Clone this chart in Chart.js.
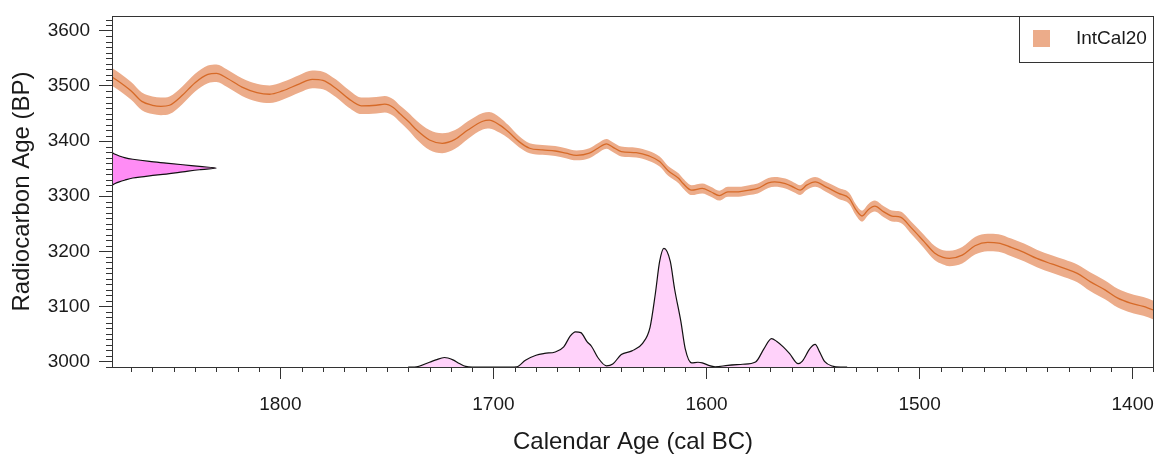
<!DOCTYPE html>
<html>
<head>
<meta charset="utf-8">
<script src="https://cdn.jsdelivr.net/npm/chart.js@4.4.0/dist/chart.umd.min.js"></script>
<style>
html, body { margin: 0; padding: 0; background: #fff; }
</style>
</head>
<body>
<canvas id="cvs" width="1161" height="459"></canvas>
<script>
// IntCal20 calibration curve (cal BC, mean 14C age BP, half-width of band)
var calAge = [1882, 1875, 1870, 1865, 1860, 1856, 1852, 1846, 1840, 1834, 1830, 1825, 1818, 1811, 1805, 1799,
	1791, 1785, 1780, 1774, 1768, 1762, 1755, 1751, 1747, 1744, 1740, 1736, 1730, 1724, 1718, 1712,
	1705, 1702, 1697, 1693, 1688, 1683, 1677, 1671, 1666, 1661, 1655, 1651, 1647, 1644, 1640, 1633,
	1627, 1622, 1618, 1613, 1611, 1607, 1602, 1598, 1594, 1590, 1585, 1580, 1576, 1571, 1568, 1563,
	1559, 1556, 1553, 1549, 1544, 1538, 1533, 1530, 1527, 1524, 1521, 1517, 1513, 1509, 1504, 1498,
	1493, 1489, 1486, 1480, 1474, 1468, 1463, 1457, 1451, 1445, 1438, 1432, 1426, 1420, 1413, 1407,
	1401, 1395, 1388];
var c14Age = [3524, 3506, 3491, 3472, 3465, 3463, 3465, 3483, 3506, 3521, 3523, 3514, 3498, 3488, 3485, 3491,
	3504, 3512, 3510, 3496, 3477, 3464, 3465, 3467, 3461, 3450, 3436, 3420, 3402, 3396, 3403, 3420,
	3436, 3438, 3429, 3417, 3399, 3387, 3384, 3382, 3378, 3374, 3378, 3387, 3395, 3389, 3381, 3379,
	3373, 3363, 3346, 3332, 3323, 3311, 3314, 3308, 3301, 3308, 3308, 3311, 3314, 3324, 3326, 3323,
	3316, 3311, 3320, 3326, 3317, 3305, 3296, 3276, 3264, 3276, 3282, 3272, 3264, 3262, 3243, 3218,
	3197, 3189, 3187, 3193, 3210, 3216, 3215, 3207, 3198, 3187, 3177, 3169, 3160, 3145, 3130, 3115,
	3106, 3100, 3090];
var c14Sigma = [16, 16, 16, 16, 16, 16, 16, 16, 16, 16, 16, 16, 16, 16, 16, 16,
	16, 16, 16, 16, 16, 15, 15, 15, 15, 15, 16, 17, 18, 18, 17, 16,
	15, 15, 14, 12, 10, 9, 9, 9, 9, 9, 9, 9, 9, 9, 9, 9,
	9, 9, 9, 9, 9, 9, 9, 9, 9, 9, 9, 9, 9, 9, 9, 9,
	9, 9, 9, 9, 9, 10, 10, 10, 10, 10, 10, 10, 10, 10, 11, 12,
	13, 13, 14, 15, 16, 16, 16, 16, 16, 16, 16, 16, 16, 17, 17, 17,
	17, 17, 17];

// radiocarbon determination density (BP, relative density)
var detAge = [3380, 3378, 3376, 3373, 3370, 3367, 3363, 3360, 3357, 3354, 3351, 3348, 3344, 3340, 3337, 3333, 3329, 3326, 3323, 3320];
var detDens = [0, 0.01, 0.03, 0.07, 0.12, 0.2, 0.36, 0.52, 0.68, 0.84, 1.0, 0.84, 0.68, 0.52, 0.36, 0.2, 0.12, 0.07, 0.03, 0];

// calibrated age density (cal BC, relative density)
var calDensAge = [1740, 1737, 1730, 1727, 1723, 1719, 1716, 1713, 1710, 1692, 1689, 1685, 1680, 1676, 1671, 1667,
	1664, 1661.5, 1659, 1656, 1654, 1651, 1647, 1644, 1640, 1635, 1630, 1626.5, 1624, 1622, 1620, 1617,
	1615, 1612, 1610, 1607, 1604, 1602, 1599, 1596, 1590, 1583, 1577, 1573, 1569.5, 1567, 1564, 1561,
	1557, 1555, 1551.5, 1549, 1547, 1544.5, 1541, 1537, 1534];
var calDensVal = [0, 0, 0.04, 0.06, 0.08, 0.06, 0.03, 0.005, 0, 0, 0.002, 0.057, 0.099, 0.115, 0.127, 0.17,
	0.26, 0.297, 0.29, 0.212, 0.175, 0.08, 0.01, 0.025, 0.105, 0.136, 0.2, 0.335, 0.62, 0.89, 1.0, 0.89,
	0.66, 0.38, 0.155, 0.035, 0.04, 0.035, 0.014, 0.002, 0.014, 0.023, 0.042, 0.155, 0.24, 0.215, 0.17, 0.113,
	0.028, 0.05, 0.155, 0.19, 0.13, 0.045, 0.008, 0, 0];

var xTicks = [1800, 1700, 1600, 1500, 1400];
var yTicks = [3000, 3100, 3200, 3300, 3400, 3500, 3600];
var minorStep = 10;

const FONT = "'Liberation Sans', Arial, sans-serif";
const INK = "#333333";
const BAND = "rgb(236,172,138)";
Chart.defaults.font.family = FONT;
Chart.defaults.color = "#1a1a1a";

function pts(xs, ys) {
	return xs.map((x, i) => ({ x: x, y: ys[i] }));
}

var upper = c14Age.map((v, i) => v + c14Sigma[i]);
var lower = c14Age.map((v, i) => v - c14Sigma[i]);

// fixed axis boxes so the plot area doesn't shift with label sizes
function fixBox(s, w, h) {
	if (w) s.width = w;
	if (h) s.height = h;
	s.paddingLeft = 0;
	s.paddingRight = 0;
	s.paddingTop = 0;
	s.paddingBottom = 0;
}

// minor ticks, plot frame and the boxed legend
const frame = {
	id: "frame",
	afterDraw(chart) {
		const ctx = chart.ctx, a = chart.chartArea;
		const sx = chart.scales.x, sy = chart.scales.y;
		ctx.save();
		ctx.strokeStyle = INK;
		ctx.lineWidth = 1;
		ctx.beginPath();
		for (let v = Math.ceil(sx.min / minorStep) * minorStep; v <= sx.max; v += minorStep) {
			if (v % 100 === 0) continue;
			let px = Math.min(Math.round(sx.getPixelForValue(v)), a.right - 1) + 0.5;
			ctx.moveTo(px, a.bottom);
			ctx.lineTo(px, a.bottom + 5);
		}
		for (let v = Math.ceil(sy.min / minorStep) * minorStep; v <= sy.max; v += minorStep) {
			if (v % 100 === 0) continue;
			let py = Math.round(sy.getPixelForValue(v)) + 0.5;
			ctx.moveTo(a.left, py);
			ctx.lineTo(a.left - 6, py);
		}
		ctx.stroke();
		ctx.strokeRect(a.left + 0.5, a.top + 0.5, a.right - a.left - 1, a.bottom - a.top);

		// legend
		const ds = chart.data.datasets[1];
		const w = 135, h = 46;
		const lx = a.right - w, ly = a.top;
		ctx.fillStyle = "#fff";
		ctx.fillRect(lx, ly, w, h);
		ctx.strokeRect(lx + 0.5, ly + 0.5, w - 1, h);
		ctx.fillStyle = ds.backgroundColor;
		ctx.fillRect(lx + 14, ly + 14, 17, 17);
		ctx.fillStyle = "#1a1a1a";
		ctx.font = "19px " + FONT;
		ctx.textBaseline = "middle";
		ctx.fillText(ds.label, lx + 57, ly + 23);
		ctx.restore();
	}
};

var chart = new Chart("cvs", {
	type: "line",
	data: {
		datasets: [{
			label: "IntCal20 mean",
			data: pts(calAge, c14Age),
			borderColor: "rgb(214,106,40)",
			borderWidth: 1.3,
			pointRadius: 0,
			cubicInterpolationMode: "monotone",
			fill: false
		}, {
			label: "IntCal20",
			data: pts(calAge, upper),
			borderWidth: 0,
			pointRadius: 0,
			backgroundColor: BAND,
			cubicInterpolationMode: "monotone",
			fill: "+1"
		}, {
			label: "lower",
			data: pts(calAge, lower),
			borderWidth: 0,
			pointRadius: 0,
			cubicInterpolationMode: "monotone",
			fill: false
		}, {
			label: "Calibrated age",
			data: pts(calDensAge, calDensVal),
			yAxisID: "yd",
			borderColor: "#111",
			borderWidth: 1.2,
			backgroundColor: "rgb(255,210,250)",
			pointRadius: 0,
			cubicInterpolationMode: "monotone",
			fill: "origin"
		}, {
			label: "Determination",
			indexAxis: "y",
			data: pts(detDens, detAge),
			xAxisID: "xd",
			borderColor: "#111",
			borderWidth: 1.2,
			backgroundColor: "rgb(255,140,245)",
			pointRadius: 0,
			cubicInterpolationMode: "monotone",
			fill: "shape"
		}]
	},
	options: {
		responsive: false,
		animation: false,
		events: [],
		layout: { padding: { top: 16, right: 7, left: 0, bottom: 0 } },
		plugins: { legend: { display: false }, tooltip: { enabled: false } },
		scales: {
			x: {
				type: "linear",
				reverse: true,
				min: 1390,
				max: 1879,
				afterBuildTicks: s => { s.ticks = xTicks.map(v => ({ value: v })); },
				afterFit: s => fixBox(s, 0, 92),
				ticks: { font: { size: 19 }, padding: 14, maxRotation: 0, autoSkip: false, callback: v => String(v) },
				grid: { drawOnChartArea: false, tickLength: 12, tickColor: INK },
				border: { display: false },
				title: { display: true, text: "Calendar Age (cal BC)", font: { size: 24 }, padding: { top: 0, bottom: 2 } }
			},
			y: {
				type: "linear",
				min: 2990,
				max: 3627,
				afterBuildTicks: s => { s.ticks = yTicks.map(v => ({ value: v })); },
				afterFit: s => fixBox(s, 112, 0),
				ticks: { font: { size: 19 }, padding: 9, callback: v => String(v) },
				grid: { drawOnChartArea: false, tickLength: 13, tickColor: INK },
				border: { display: false },
				title: { display: true, text: "Radiocarbon Age (BP)", font: { size: 24 }, padding: { top: 8, bottom: 0 } }
			},
			xd: { type: "linear", display: false, min: 0, max: 10 },
			yd: { type: "linear", display: false, min: 0, max: 2.96 }
		}
	},
	plugins: [frame]
});
</script>
</body>
</html>
